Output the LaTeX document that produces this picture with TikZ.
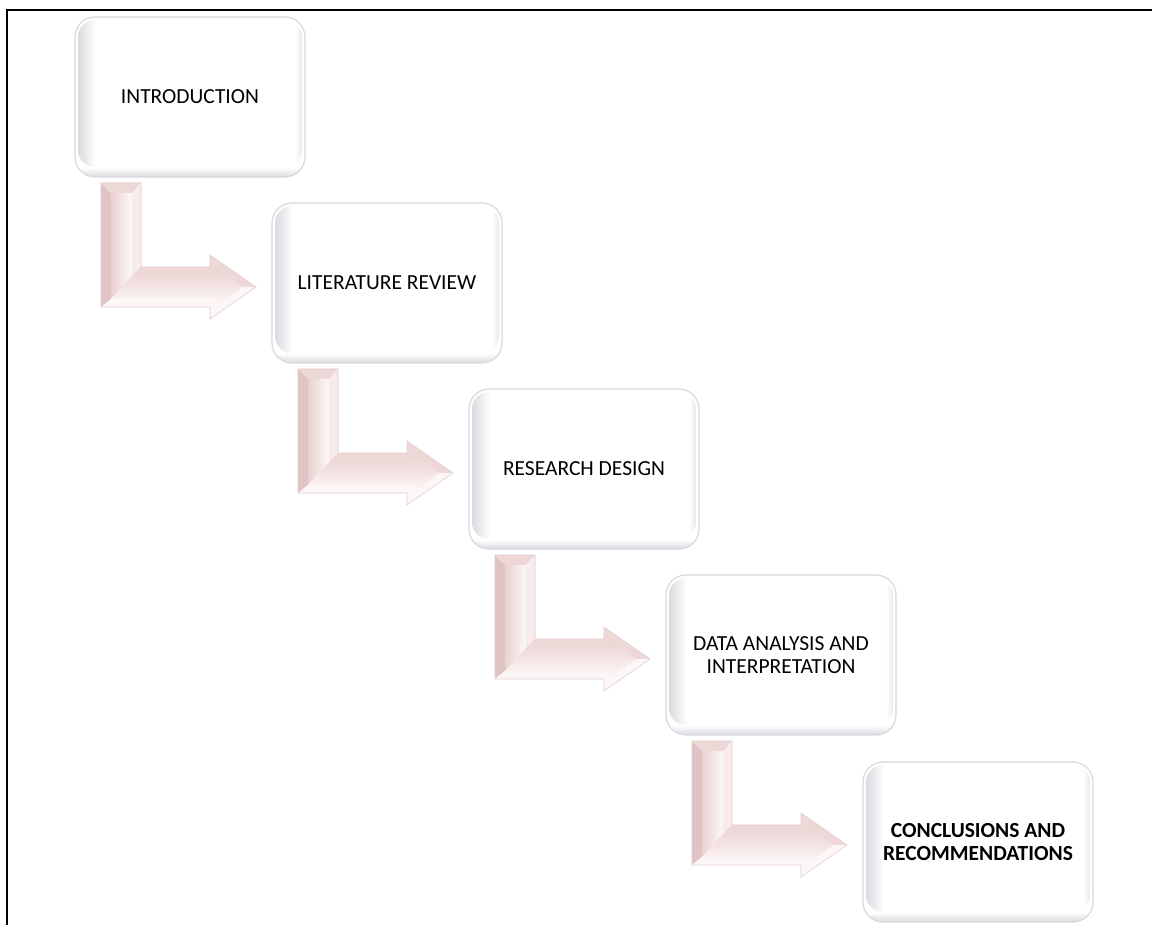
\documentclass[tikz,border=0pt]{standalone}
\usepackage{fontspec}
\setmainfont{Carlito}
\definecolor{pkdark}{HTML}{E0C3C3}
\definecolor{pkmid}{HTML}{EDD7D7}
\definecolor{pklight}{HTML}{F7EBEB}
\definecolor{pkwhite}{HTML}{FCF6F6}
\definecolor{pkline}{HTML}{E3CDCD}
\definecolor{pkfaceA}{HTML}{EBD1D1}
\definecolor{pkfaceB}{HTML}{FDF8F8}
\definecolor{boxline}{HTML}{D8D8DE}
\definecolor{boxgray}{HTML}{DADAE0}
\pgfdeclareverticalshading{boxv}{100bp}{color(0bp)=(boxgray); color(25bp)=(boxgray); color(28bp)=(white); color(100bp)=(white)}
\pgfdeclarehorizontalshading{boxh}{100bp}{color(0bp)=(boxgray); color(25bp)=(boxgray); color(29bp)=(white); color(73.5bp)=(white); color(75bp)=(boxgray!60); color(100bp)=(boxgray!60)}
\tikzset{
  flowbox/.style={rounded corners=20pt, minimum width=230pt, minimum height=160pt,
    draw=boxline, line width=1.2pt, align=center, text=black,
    font=\fontsize{21.5}{23.5}\selectfont},
  frameline/.style={line width=2.5pt, black},
  arrline/.style={draw=pkline, line width=0.6pt},
}
\newcommand\boxbg[2]{%
  \path[shading=boxv, rounded corners=20pt] (#1,#2) rectangle ++(230,160);
  \path[shading=boxh, rounded corners=17pt] ({#1+3},{#2+3}) rectangle ({#1+227},{#2+150});
}
\newcommand\larrow[2]{%
  \begin{scope}[shift={(#1,#2)}]
    \coordinate (A) at (26,166); \coordinate (B) at (66,166);
    \coordinate (C) at (66,250); \coordinate (D) at (135,250);
    \coordinate (E) at (135,238); \coordinate (F) at (181,270);
    \coordinate (G) at (135,302); \coordinate (H) at (135,290);
    \coordinate (I) at (26,290);
    \coordinate (a) at (36,176); \coordinate (b) at (57,176);
    \coordinate (c) at (57,259); \coordinate (d) at (141,259);
    \coordinate (e) at (141,251); \coordinate (f) at (167,270);
    \coordinate (g) at (141,289); \coordinate (h) at (141,282);
    \coordinate (i) at (36,282);
    \fill[pkdark] (A)--(a)--(i)--(I)--cycle;
    \fill[pkmid] (A)--(B)--(b)--(a)--cycle;
    \fill[pklight] (B)--(C)--(c)--(b)--cycle;
    \fill[pkmid] (C)--(D)--(d)--(c)--cycle;
    \fill[pkmid] (D)--(E)--(e)--(d)--cycle;
    \fill[pkmid] (E)--(F)--(f)--(e)--cycle;
    \fill[pkwhite] (F)--(G)--(g)--(f)--cycle;
    \fill[pkwhite] (G)--(H)--(h)--(g)--cycle;
    \fill[pkwhite] (H)--(I)--(i)--(h)--cycle;
    \shade[left color=pkfaceA, right color=pkfaceB] (a)--(b)--(c)--(i)--cycle;
    \shade[top color=pkfaceA, bottom color=pkfaceB] (i)--(c)--(d)--(e)--(f)--(g)--(h)--cycle;
    \draw[arrline] (A)--(B)--(C)--(D)--(E)--(F)--(G)--(H)--(I)--cycle;
  \end{scope}
}
\begin{document}
\begin{tikzpicture}[x=1pt, y=-1pt]
  \useasboundingbox (0,0) rectangle (1152,925);
  \fill[white] (0,0) rectangle (1152,925);
  % frame
  \draw[frameline] (7,925) -- (7,10) -- (1152,10);
  % boxes
  \boxbg{75}{17}
  \node[flowbox] (b1) at (190,97) {INTRODUCTION};
  \boxbg{272}{203}
  \node[flowbox] (b2) at (387,283) {LITERATURE REVIEW};
  \boxbg{469}{389}
  \node[flowbox] (b3) at (584,469) {RESEARCH DESIGN};
  \boxbg{666}{575}
  \node[flowbox] (b4) at (781,655) {DATA ANALYSIS AND\\INTERPRETATION};
  \boxbg{863}{762}
  \node[flowbox, font=\fontsize{21.5}{23.5}\selectfont\bfseries] (b5) at (978,842) {CONCLUSIONS AND\\RECOMMENDATIONS};
  % L-shaped arrows
  \larrow{75}{17}
  \larrow{272}{203}
  \larrow{469}{389}
  \larrow{666}{575}
\end{tikzpicture}
\end{document}
